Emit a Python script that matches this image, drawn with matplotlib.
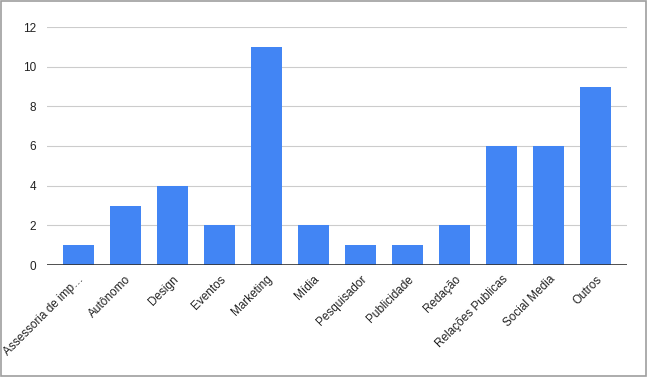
import matplotlib.pyplot as plt
from matplotlib.patches import Rectangle

categories = ['Assessoria de imp…', 'Autônomo', 'Design', 'Eventos', 'Marketing', 'Mídia',
              'Pesquisador', 'Publicidade', 'Redação', 'Relações Publicas', 'Social Media', 'Outros']
values = [1, 3, 4, 2, 11, 2, 1, 1, 2, 6, 6, 9]

plt.rcParams['font.family'] = ['Arial', 'Liberation Sans', 'DejaVu Sans']

fig = plt.figure(figsize=(6.47, 3.77), dpi=100)
ax = fig.add_axes([47/647, 1 - 265/377, 580/647, 238/377])

x = range(len(categories))
ax.bar(x, values, width=0.66, color='#4285f4', zorder=3)

ax.set_xlim(-0.66, len(categories) - 0.34)
ax.set_ylim(0, 12)
ax.set_yticks([0, 2, 4, 6, 8, 10, 12])
ax.grid(axis='y', color='#cccccc', linewidth=0.8, zorder=0)
ax.axhline(0, color='#333333', linewidth=1.2, zorder=4)

for s in ax.spines.values():
    s.set_visible(False)
ax.tick_params(length=0, labelsize=8.5, colors='#222222')
ax.tick_params(axis='y', pad=8)
ax.set_xticks(list(x))
ax.set_xticklabels(categories, rotation=45, ha='right', rotation_mode='anchor')
ax.tick_params(axis='x', pad=6)

# thin grey frame around the whole image
fig.patches.append(Rectangle((0.001, 0.002), 0.997, 0.996, transform=fig.transFigure,
                             fill=False, edgecolor='#9e9e9e', linewidth=1.2))

fig.savefig('out.png', dpi=100)
